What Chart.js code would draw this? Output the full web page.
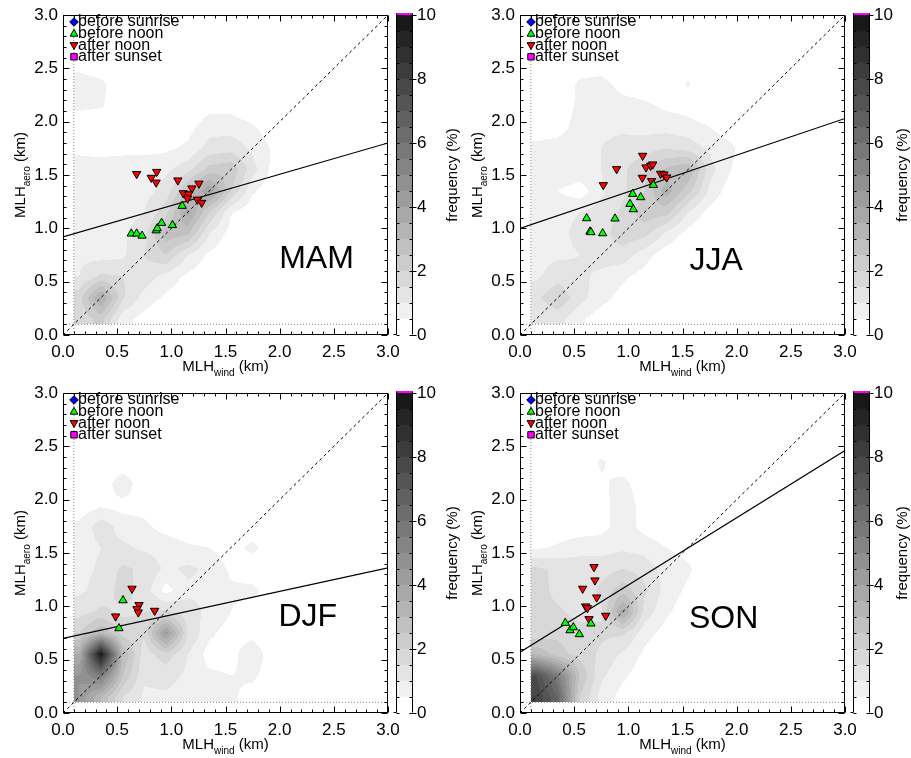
<!DOCTYPE html>
<html><head><meta charset="utf-8">
<script src="https://cdn.jsdelivr.net/npm/chart.js@4.4.1/dist/chart.umd.min.js"></script>
<style>
html,body{margin:0;padding:0;background:#fff;}
body{width:911px;height:758px;overflow:hidden;position:relative;}
canvas{position:absolute;}
</style></head><body>
<canvas id="p0" width="400" height="380" style="left:0px;top:0px"></canvas>
<canvas id="cb0" width="72" height="380" style="left:390px;top:0px"></canvas>
<canvas id="p1" width="400" height="380" style="left:457px;top:0px"></canvas>
<canvas id="cb1" width="64" height="380" style="left:847px;top:0px"></canvas>
<canvas id="p2" width="400" height="380" style="left:0px;top:378px"></canvas>
<canvas id="cb2" width="72" height="380" style="left:390px;top:378px"></canvas>
<canvas id="p3" width="400" height="380" style="left:457px;top:378px"></canvas>
<canvas id="cb3" width="64" height="380" style="left:847px;top:378px"></canvas>
<script>
// ---------------- data ----------------
const seasonNames = ['MAM', 'JJA', 'DJF', 'SON'];
const axisTicks = [0.0, 0.5, 1.0, 1.5, 2.0, 2.5, 3.0];
const freqLevels = [0,0.5,1,1.5,2,2.5,3,3.5,4,4.5,5,5.5,6,6.5,7,7.5,8,8.5,9,9.5,10];
const freqTicks = [0, 2, 4, 6, 8, 10];
const minMLH = 0.1;
const seriesLabels = ['before sunrise', 'before noon', 'after noon', 'after sunset'];

// density grid nodes (km)
const gridX = [0.15,0.35,0.55,0.75,0.95,1.15,1.35,1.55,1.75,1.95,2.15];
const gridY = [0.15,0.35,0.55,0.75,0.95,1.15,1.35,1.55,1.75,1.95,2.15,2.35,2.55];

// frequency (%) per node, rows = gridY, cols = gridX
const densMAM = [
 [1.6,2.2,0.7,0.3,0.0,0.0,0.0,0.0,0.0,0.0,0.0],
 [1.8,3.6,1.6,0.8,0.4,0.1,0.0,0.0,0.0,0.0,0.0],
 [1.0,1.6,1.5,1.3,0.8,0.4,0.1,0.0,0.0,0.0,0.0],
 [0.9,0.8,0.9,1.5,2.0,1.0,0.4,0.1,0.0,0.0,0.0],
 [0.9,0.9,0.9,1.3,2.8,2.6,1.0,0.3,0.0,0.0,0.0],
 [0.9,0.8,0.8,1.0,1.8,3.7,2.0,0.55,0.1,0.0,0.0],
 [0.9,0.8,0.8,0.8,1.2,2.6,4.0,2.0,0.6,0.1,0.0],
 [0.8,0.7,0.8,0.8,0.9,1.3,2.2,2.4,1.2,0.3,0.0],
 [0.35,0.35,0.35,0.35,0.4,0.6,1.2,1.3,0.9,0.4,0.0],
 [0.2,0.1,0.1,0.1,0.1,0.3,0.8,0.8,0.55,0.2,0.0],
 [0.6,0.55,0.2,0.0,0.0,0.0,0.3,0.3,0.1,0.0,0.0],
 [0.7,0.6,0.2,0.0,0.0,0.0,0.0,0.0,0.0,0.0,0.0],
 [0.35,0.2,0.0,0.0,0.0,0.0,0.0,0.0,0.0,0.0,0.0]
];
const densJJA = [
 [1.0,1.2,0.6,0.2,0.0,0.0,0.0,0.0,0.0,0.0,0.0],
 [1.4,1.9,1.2,0.7,0.3,0.0,0.0,0.0,0.0,0.0,0.0],
 [0.9,1.3,1.1,0.9,0.6,0.3,0.0,0.0,0.0,0.0,0.0],
 [0.8,0.9,1.0,1.2,1.3,0.7,0.2,0.0,0.0,0.0,0.0],
 [0.8,0.9,1.1,1.3,1.8,1.7,0.9,0.3,0.0,0.0,0.0],
 [0.7,0.9,1.0,1.2,1.6,2.3,2.2,1.0,0.3,0.0,0.0],
 [0.7,0.5,0.2,0.9,1.4,2.0,3.3,2.2,0.9,0.2,0.0],
 [0.7,0.9,0.9,1.0,1.4,1.9,2.6,3.0,1.2,0.5,0.1],
 [0.6,0.7,0.9,1.0,1.2,1.3,1.5,1.3,0.9,0.6,0.1],
 [0.3,0.3,0.7,0.9,0.9,0.8,0.8,0.7,0.5,0.2,0.0],
 [0.1,0.2,0.6,0.8,0.7,0.6,0.4,0.3,0.1,0.0,0.0],
 [0.0,0.1,0.6,0.7,0.3,0.2,0.1,0.55,0.0,0.0,0.0],
 [0.0,0.0,0.2,0.2,0.0,0.0,0.0,0.3,0.0,0.0,0.0]
];
const densDJF = [
 [4.5,3.0,1.5,0.9,0.9,0.8,0.7,0.6,0.3,0.0,0.0],
 [4.5,5.5,2.5,1.1,1.2,0.9,0.6,0.5,0.6,0.2,0.0],
 [3.5,9.8,3.0,1.2,1.8,1.0,0.3,0.3,0.9,0.1,0.0],
 [2.0,3.0,1.8,1.6,4.3,1.5,0.6,0.3,0.3,0.0,0.0],
 [1.3,1.6,1.4,1.5,1.6,1.2,0.9,0.5,0.2,0.0,0.0],
 [0.9,1.2,1.7,1.3,0.3,0.9,0.9,0.6,0.7,0.0,0.0],
 [0.8,1.1,1.6,1.4,0.9,1.1,0.9,0.4,0.0,0.0,0.0],
 [0.7,1.0,1.1,0.9,0.8,0.6,0.5,0.2,0.7,0.0,0.0],
 [0.6,1.3,0.8,0.6,0.3,0.1,0.0,0.0,0.0,0.0,0.0],
 [0.2,0.4,0.3,0.3,0.0,0.0,0.0,0.0,0.0,0.0,0.0],
 [0.0,0.0,0.95,0.0,0.0,0.0,0.0,0.0,0.0,0.0,0.0],
 [0.0,0.0,0.0,0.0,0.0,0.0,0.0,0.0,0.0,0.0,0.0],
 [0.0,0.0,0.0,0.0,0.0,0.0,0.0,0.0,0.0,0.0,0.0]
];
const densSON = [
 [8.0,6.5,2.0,0.8,0.3,0.0,0.0,0.0,0.0,0.0,0.0],
 [7.5,5.5,2.5,1.1,0.6,0.2,0.0,0.0,0.0,0.0,0.0],
 [3.0,2.2,1.8,1.4,0.9,0.4,0.0,0.0,0.0,0.0,0.0],
 [1.6,1.9,1.7,1.6,1.6,0.7,0.3,0.0,0.0,0.0,0.0],
 [1.7,1.6,1.3,1.4,3.7,1.3,0.6,0.2,0.0,0.0,0.0],
 [1.8,1.3,1.2,1.6,2.3,1.6,0.8,0.4,0.0,0.0,0.0],
 [1.6,1.4,1.3,1.3,1.5,1.3,0.8,0.6,0.1,0.0,0.0],
 [0.4,0.6,0.8,0.8,0.9,0.8,0.5,0.3,0.0,0.0,0.0],
 [0.1,0.1,0.2,0.3,0.8,0.3,0.1,0.0,0.0,0.0,0.0],
 [0.0,0.0,0.0,0.3,0.8,0.3,0.0,0.0,0.0,0.0,0.0],
 [0.0,0.0,0.0,0.4,0.7,0.1,0.0,0.0,0.0,0.0,0.0],
 [0.0,0.0,0.0,0.6,0.1,0.0,0.0,0.0,0.0,0.0,0.0],
 [0.0,0.0,0.0,0.0,0.0,0.0,0.0,0.0,0.0,0.0,0.0]
];

// scatter points (MLH_wind, MLH_aero) in km
const mamSunriseX = [], mamSunriseY = [], mamSunsetX = [], mamSunsetY = [];
const mamBeforeNoonX = [0.63,0.68,0.73,0.86,0.87,0.91,1.01,1.10];
const mamBeforeNoonY = [0.95,0.95,0.93,0.98,1.00,1.05,1.03,1.21];
const mamAfterNoonX = [0.68,0.865,0.815,0.86,1.06,1.255,1.19,1.11,1.16,1.15,1.24,1.28];
const mamAfterNoonY = [1.51,1.53,1.475,1.43,1.45,1.42,1.375,1.33,1.32,1.28,1.27,1.24];

const jjaSunriseX = [], jjaSunriseY = [], jjaSunsetX = [], jjaSunsetY = [];
const jjaBeforeNoonX = [0.615,0.646,0.655,0.763,0.877,1.015,1.046,1.04,1.114,1.231];
const jjaBeforeNoonY = [1.094,0.969,0.963,0.953,1.091,1.228,1.178,1.322,1.291,1.406];
const jjaAfterNoonX = [0.769,0.892,1.132,1.163,1.206,1.225,1.129,1.215,1.298,1.329,1.354];
const jjaAfterNoonY = [1.406,1.556,1.681,1.572,1.588,1.60,1.475,1.444,1.513,1.506,1.478];

const djfSunriseX = [], djfSunriseY = [], djfSunsetX = [], djfSunsetY = [];
const djfBeforeNoonX = [0.554,0.517];
const djfBeforeNoonY = [1.056,0.794];
const djfAfterNoonX = [0.637,0.702,0.683,0.695,0.486,0.846];
const djfAfterNoonY = [1.166,1.013,0.975,0.944,0.906,0.959];

const sonSunriseX = [], sonSunriseY = [], sonSunsetX = [], sonSunsetY = [];
const sonBeforeNoonX = [0.418,0.462,0.492,0.548,0.655];
const sonBeforeNoonY = [0.844,0.775,0.803,0.738,0.838];
const sonAfterNoonX = [0.683,0.692,0.578,0.708,0.606,0.622,0.637,0.791];
const sonAfterNoonY = [1.369,1.244,1.166,1.084,1.0,0.984,0.881,0.9125];

// linear fit: MLH_aero at MLH_wind = 0 and at MLH_wind = 3
const fitX = [0, 3];
const fitMAM = [0.92, 1.80];
const fitJJA = [1.00, 2.03];
const fitDJF = [0.70, 1.36];
const fitSON = [0.57, 2.46];
const oneToOne = [0, 3];

// ---------------- rendering ----------------
const FF = '"Liberation Sans", Arial, Helvetica, sans-serif';
Chart.defaults.font.family = FF;
Chart.defaults.color = '#000';

function bandGray(k) { return k <= 0 ? 255 : Math.max(0, 240 - (k - 1) * 12); }
function levelOf(v) {
  let k = 0;
  for (let i = 1; i < freqLevels.length - 1; i++) if (v >= freqLevels[i]) k = i;
  return k;
}
function sample(grid, x, y) {
  const hx = gridX[1] - gridX[0], hy = gridY[1] - gridY[0];
  let fx = (x - gridX[0]) / hx, fy = (y - gridY[0]) / hy;
  if (fx < 0) fx = 0; if (fy < 0) fy = 0;
  const i = Math.floor(fx), j = Math.floor(fy), tx = fx - i, ty = fy - j;
  const g = (ii, jj) => (jj < grid.length && ii < grid[0].length) ? grid[jj][ii] : 0;
  return (1-tx)*(1-ty)*g(i,j) + tx*(1-ty)*g(i+1,j) + (1-tx)*ty*g(i,j+1) + tx*ty*g(i+1,j+1);
}
function pts(xs, ys) { return xs.map((x, i) => ({x: x, y: ys[i]})); }

function drawSubText(ctx, cx, cy, rotate, main, sub, tail, size) {
  ctx.save();
  ctx.translate(cx, cy);
  if (rotate) ctx.rotate(-Math.PI / 2);
  const f1 = size + 'px ' + FF, f2 = Math.round(size * 0.68) + 'px ' + FF;
  ctx.font = f1; const w1 = ctx.measureText(main).width, w3 = ctx.measureText(tail).width;
  ctx.font = f2; const w2 = ctx.measureText(sub).width;
  let x = -(w1 + w2 + w3) / 2;
  const base = size * 0.36;
  ctx.fillStyle = '#000'; ctx.textAlign = 'left'; ctx.textBaseline = 'alphabetic';
  ctx.font = f1; ctx.fillText(main, x, base); x += w1;
  ctx.font = f2; ctx.fillText(sub, x, base + size * 0.28); x += w2;
  ctx.font = f1; ctx.fillText(tail, x, base);
  ctx.restore();
}

function marker(ctx, style, x, y, fill) {
  ctx.save();
  ctx.fillStyle = fill; ctx.strokeStyle = '#000'; ctx.lineWidth = 1;
  ctx.beginPath();
  const r = 4.3;
  if (style === 'diamond') { ctx.moveTo(x, y - r); ctx.lineTo(x + r, y); ctx.lineTo(x, y + r); ctx.lineTo(x - r, y); }
  else if (style === 'up') { ctx.moveTo(x, y - r); ctx.lineTo(x + r * 0.9, y + r * 0.6); ctx.lineTo(x - r * 0.9, y + r * 0.6); }
  else if (style === 'down') { ctx.moveTo(x, y + r); ctx.lineTo(x + r * 0.9, y - r * 0.6); ctx.lineTo(x - r * 0.9, y - r * 0.6); }
  else { ctx.rect(x - 3.2, y - 3.2, 6.4, 6.4); }
  ctx.closePath(); ctx.fill(); ctx.stroke();
  ctx.restore();
}

function panelPlugin(p) {
  return {
    id: 'panel_' + p.name,
    beforeDatasetsDraw(chart) {
      const {ctx, chartArea: a, scales: {x: xs, y: ys}} = chart;
      const L = Math.round(a.left), T = Math.round(a.top);
      const W = Math.round(a.right) - L, H = Math.round(a.bottom) - T;
      const img = ctx.createImageData(W, H);
      for (let py = 0; py < H; py++) {
        const yv = ys.getValueForPixel(T + py + 0.5);
        for (let px = 0; px < W; px++) {
          const xv = xs.getValueForPixel(L + px + 0.5);
          let g = 255;
          if (xv >= minMLH && yv >= minMLH) g = bandGray(levelOf(sample(p.grid, xv, yv)));
          const o = (py * W + px) * 4;
          img.data[o] = img.data[o+1] = img.data[o+2] = g; img.data[o+3] = 255;
        }
      }
      ctx.putImageData(img, L, T);
    },
    afterDatasetsDraw(chart) {
      const {ctx, chartArea: a, scales: {x: xs, y: ys}} = chart;
      ctx.save();
      ctx.strokeStyle = '#000'; ctx.lineWidth = 1;
      const L = Math.round(a.left) + 0.5, R = Math.round(a.right) - 0.5, T = Math.round(a.top) + 0.5, B = Math.round(a.bottom) - 0.5;
      ctx.strokeRect(L, T, R - L, B - T);
      ctx.beginPath();
      for (let i = 0; i <= 30; i++) {
        const v = i / 10, len = (i % 5 === 0) ? 6 : 3;
        const px = Math.round(xs.getPixelForValue(v)) + 0.5;
        ctx.moveTo(px, B); ctx.lineTo(px, B - len);
        ctx.moveTo(px, T); ctx.lineTo(px, T + len);
        const py = Math.round(ys.getPixelForValue(v)) + 0.5;
        ctx.moveTo(L, py); ctx.lineTo(L + len, py);
        ctx.moveTo(R, py); ctx.lineTo(R - len, py);
      }
      ctx.stroke();
      ctx.fillStyle = '#000';
      ctx.font = '32px ' + FF; ctx.textAlign = 'center'; ctx.textBaseline = 'alphabetic';
      ctx.fillText(p.name, xs.getPixelForValue(p.labelPos[0]), ys.getPixelForValue(p.labelPos[1]));
      const styles = ['diamond', 'up', 'down', 'square'];
      const fills = ['#0000ff', '#00ff00', '#ff0000', '#ff00ff'];
      ctx.font = '16px ' + FF; ctx.textAlign = 'left'; ctx.textBaseline = 'middle';
      seriesLabels.forEach((lab, i) => {
        const yy = a.top + 7 + i * 11.6;
        marker(ctx, styles[i], a.left + 11, yy, fills[i]);
        ctx.fillStyle = '#000';
        ctx.fillText(lab, a.left + 15, yy);
      });
      ctx.restore();
    },
    afterDraw(chart) {
      const {ctx, chartArea: a} = chart;
      drawSubText(ctx, (a.left + a.right) / 2, a.bottom + 31, false, 'MLH', 'wind', ' (km)', 15);
      drawSubText(ctx, a.left - 43, (a.top + a.bottom) / 2, true, 'MLH', 'aero', ' (km)', 15);
    }
  };
}

function makePanel(p) {
  const datasets = [
    {label: seriesLabels[0], data: pts(p.srX, p.srY), pointStyle: 'rectRot', pointRadius: 4.5, backgroundColor: '#0000ff', borderColor: '#000', borderWidth: 1, order: 0},
    {label: seriesLabels[1], data: pts(p.bnX, p.bnY), pointStyle: 'triangle', pointRadius: 4.8, backgroundColor: '#00ff00', borderColor: '#000', borderWidth: 1, order: 1},
    {label: seriesLabels[2], data: pts(p.anX, p.anY), pointStyle: 'triangle', rotation: 180, pointRadius: 4.8, backgroundColor: '#ff0000', borderColor: '#000', borderWidth: 1, order: 2},
    {label: seriesLabels[3], data: pts(p.ssX, p.ssY), pointStyle: 'rect', pointRadius: 4, backgroundColor: '#ff00ff', borderColor: '#000', borderWidth: 1, order: 3},
    {label: 'fit', data: pts(fitX, p.fit), showLine: true, borderColor: '#000', borderWidth: 1.2, pointRadius: 0, order: 4},
    {label: '1:1', data: pts(oneToOne, oneToOne), showLine: true, borderColor: '#000', borderWidth: 1, borderDash: [3, 3], pointRadius: 0, order: 5},
    {label: 'min x', data: pts([minMLH, minMLH], [0, 3]), showLine: true, borderColor: '#888', borderWidth: 1, borderDash: [1, 2], pointRadius: 0, order: 6},
    {label: 'min y', data: pts([0, 3], [minMLH, minMLH]), showLine: true, borderColor: '#888', borderWidth: 1, borderDash: [1, 2], pointRadius: 0, order: 7}
  ];
  const tickCfg = {autoSkip: false, maxRotation: 0, font: {size: 17}, color: '#000', callback: v => Number(v).toFixed(1)};
  new Chart(document.getElementById(p.id), {
    type: 'scatter',
    data: {datasets: datasets},
    options: {
      responsive: false, animation: false, events: [],
      layout: {padding: {top: 15, right: 12, left: 0, bottom: 0}},
      plugins: {legend: {display: false}, tooltip: {enabled: false}},
      scales: {
        x: {type: 'linear', min: axisTicks[0], max: axisTicks[axisTicks.length - 1], grid: {display: false, drawTicks: false}, border: {display: false},
            ticks: Object.assign({padding: 7}, tickCfg),
            afterBuildTicks(s) { s.ticks = axisTicks.map(v => ({value: v})); },
            afterFit(s) { s.height = 45; s.paddingLeft = 0; s.paddingRight = 0; }},
        y: {type: 'linear', min: axisTicks[0], max: axisTicks[axisTicks.length - 1], grid: {display: false, drawTicks: false}, border: {display: false},
            ticks: Object.assign({padding: 5}, tickCfg),
            afterBuildTicks(s) { s.ticks = axisTicks.map(v => ({value: v})); },
            afterFit(s) { s.width = 63; s.paddingTop = 0; s.paddingBottom = 0; }}
      }
    },
    plugins: [panelPlugin(p)]
  });
}

function makeColorbar(p) {
  const canvas = document.getElementById(p.cb);
  const cw = canvas.width;
  const bands = freqLevels.slice(0, -1).map((lo, k) => ({
    label: lo + '-' + freqLevels[k + 1], data: [freqLevels[k + 1] - lo],
    backgroundColor: 'rgb(' + bandGray(k) + ',' + bandGray(k) + ',' + bandGray(k) + ')',
    borderWidth: 0, barPercentage: 1, categoryPercentage: 1
  }));
  new Chart(canvas, {
    type: 'bar',
    data: {labels: [''], datasets: bands},
    options: {
      responsive: false, animation: false, events: [],
      layout: {padding: {left: 6, top: 15, bottom: 45, right: 0}},
      plugins: {legend: {display: false}, tooltip: {enabled: false}},
      scales: {
        x: {display: false, stacked: true},
        y: {position: 'right', stacked: true, min: 0, max: 10, grid: {display: false, drawTicks: false}, border: {display: false},
            ticks: {padding: 4, font: {size: 17}, color: '#000'},
            afterBuildTicks(s) { s.ticks = freqTicks.map(v => ({value: v})); },
            afterFit(s) { s.width = cw - 6 - 17; s.paddingTop = 0; s.paddingBottom = 0; }}
      }
    },
    plugins: [{
      id: 'cbframe',
      afterDatasetsDraw(chart) {
        const {ctx, chartArea: a, scales: {y: ys}} = chart;
        ctx.save();
        const L = Math.round(a.left) + 0.5, R = Math.round(a.right) - 0.5, T = Math.round(a.top) + 0.5, B = Math.round(a.bottom) - 0.5;
        ctx.fillStyle = '#ff00ff';
        ctx.fillRect(Math.round(a.left), Math.round(a.top) - 2, Math.round(a.right) - Math.round(a.left), 2);
        ctx.strokeStyle = '#000'; ctx.lineWidth = 1;
        ctx.beginPath();
        ctx.moveTo(L, T - 2); ctx.lineTo(L, B);
        ctx.moveTo(R, T - 2); ctx.lineTo(R, B);
        for (let i = 0; i < freqLevels.length; i++) {
          const v = freqLevels[i];
          const major = freqTicks.indexOf(v) >= 0;
          const py = Math.round(ys.getPixelForValue(v)) + 0.5;
          ctx.moveTo(L, py); ctx.lineTo(L + 3, py);
          ctx.moveTo(R - 3, py); ctx.lineTo(R + (major ? 4 : 0), py);
        }
        const p0 = Math.round(ys.getPixelForValue(0)) - 0.5;
        ctx.moveTo(L - 3, p0); ctx.lineTo(L, p0);
        ctx.stroke();
        ctx.restore();
      },
      afterDraw(chart) {
        const {ctx, chartArea: a} = chart;
        ctx.save();
        ctx.translate(a.right + p.cbTitle, (a.top + a.bottom) / 2);
        ctx.rotate(-Math.PI / 2);
        ctx.font = '15px ' + FF; ctx.fillStyle = '#000'; ctx.textAlign = 'center'; ctx.textBaseline = 'middle';
        ctx.fillText('frequency (%)', 0, 0);
        ctx.restore();
      }
    }]
  });
}

const panels = [
  {id: 'p0', cb: 'cb0', name: seasonNames[0], grid: densMAM, srX: mamSunriseX, srY: mamSunriseY, bnX: mamBeforeNoonX, bnY: mamBeforeNoonY, anX: mamAfterNoonX, anY: mamAfterNoonY, ssX: mamSunsetX, ssY: mamSunsetY, fit: fitMAM, labelPos: [2.34, 0.63], cbTitle: 40},
  {id: 'p1', cb: 'cb1', name: seasonNames[1], grid: densJJA, srX: jjaSunriseX, srY: jjaSunriseY, bnX: jjaBeforeNoonX, bnY: jjaBeforeNoonY, anX: jjaAfterNoonX, anY: jjaAfterNoonY, ssX: jjaSunsetX, ssY: jjaSunsetY, fit: fitJJA, labelPos: [1.81, 0.61], cbTitle: 33},
  {id: 'p2', cb: 'cb2', name: seasonNames[2], grid: densDJF, srX: djfSunriseX, srY: djfSunriseY, bnX: djfBeforeNoonX, bnY: djfBeforeNoonY, anX: djfAfterNoonX, anY: djfAfterNoonY, ssX: djfSunsetX, ssY: djfSunsetY, fit: fitDJF, labelPos: [2.26, 0.815], cbTitle: 40},
  {id: 'p3', cb: 'cb3', name: seasonNames[3], grid: densSON, srX: sonSunriseX, srY: sonSunriseY, bnX: sonBeforeNoonX, bnY: sonBeforeNoonY, anX: sonAfterNoonX, anY: sonAfterNoonY, ssX: sonSunsetX, ssY: sonSunsetY, fit: fitSON, labelPos: [1.88, 0.80], cbTitle: 33}
];
panels.forEach(p => { makePanel(p); makeColorbar(p); });
</script>
</body></html>
